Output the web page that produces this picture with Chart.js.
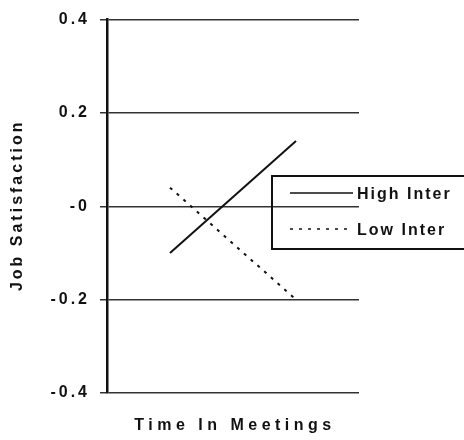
<!DOCTYPE html>
<html lang="en">
<head>
<meta charset="utf-8">
<title>Job Satisfaction</title>
<script src="https://cdn.jsdelivr.net/npm/chart.js@4.4.0/dist/chart.umd.min.js"></script>
<style>
  html, body { margin: 0; padding: 0; background: #fff; overflow: hidden; }
  canvas { display: block; }
</style>
</head>
<body>
<canvas id="chart" width="464" height="440"></canvas>
<script>
// data
const categories = ['Low', 'High'];
const highInter = [-0.1, 0.14];
const lowInter = [0.04, -0.2];
const seriesNames = ['High Inter', 'Low Inter'];
const tickLabels = ['-0.4', '-0.2', '-0', '0.2', '0.4'];
const yTitle = 'Job Satisfaction';
const xTitle = 'Time In Meetings';

const FONT = '"Liberation Sans", Arial, sans-serif';
const INK = '#111';

// spaced-out tick lettering like the printed figure
const spacing = {
    id: 'spacing',
    beforeDraw(chart) { chart.ctx.letterSpacing = '3px'; },
    afterDraw(chart) { chart.ctx.letterSpacing = '0px'; }
};

// axis titles, drawn by hand so each can get its own letter spacing
const titles = {
    id: 'titles',
    afterDraw(chart) {
        const ctx = chart.ctx;
        const area = chart.chartArea;
        ctx.save();
        ctx.font = 'bold 16px ' + FONT;
        ctx.fillStyle = INK;
        ctx.textAlign = 'center';
        ctx.textBaseline = 'middle';
        ctx.letterSpacing = '4.5px';
        ctx.fillText(xTitle, (area.left + area.right) / 2 + 2, 426);
        ctx.translate(18, (area.top + area.bottom) / 2);
        ctx.rotate(-Math.PI / 2);
        ctx.letterSpacing = '3px';
        ctx.fillText(yTitle, 1, 0);
        ctx.restore();
    }
};

// boxed legend running off the right edge of the figure
const boxLegend = {
    id: 'boxLegend',
    afterDraw(chart) {
        const ctx = chart.ctx;
        const w = chart.width;
        ctx.save();
        ctx.strokeStyle = INK;
        ctx.lineWidth = 2;
        ctx.beginPath();
        ctx.moveTo(w, 176);
        ctx.lineTo(272, 176);
        ctx.lineTo(272, 249);
        ctx.lineTo(w, 249);
        ctx.stroke();
        chart.data.datasets.forEach((ds, i) => {
            const y = 193 + i * 36;
            ctx.setLineDash(ds.borderDash || []);
            ctx.lineWidth = 1.6;
            ctx.beginPath();
            ctx.moveTo(290, y);
            ctx.lineTo(353, y);
            ctx.stroke();
            ctx.setLineDash([]);
            ctx.letterSpacing = '2px';
            ctx.font = 'bold 16px ' + FONT;
            ctx.fillStyle = INK;
            ctx.textBaseline = 'middle';
            ctx.textAlign = 'left';
            ctx.fillText(ds.label, 357, y + 2);
        });
        ctx.restore();
    }
};

new Chart(document.getElementById('chart'), {
    type: 'line',
    data: {
        labels: categories,
        datasets: [{
            label: seriesNames[0],
            data: highInter,
            borderColor: INK,
            borderWidth: 2,
            pointRadius: 0,
            tension: 0
        }, {
            label: seriesNames[1],
            data: lowInter,
            borderColor: INK,
            borderWidth: 2,
            borderDash: [3, 6],
            pointRadius: 0,
            tension: 0
        }]
    },
    options: {
        responsive: false,
        animation: false,
        layout: { padding: { top: 17, right: 105, left: 0, bottom: 0 } },
        plugins: { legend: { display: false }, tooltip: { enabled: false } },
        scales: {
            x: {
                offset: true,
                grid: { display: false, offset: true },
                border: { display: false },
                ticks: { display: false },
                afterFit(scale) { scale.height = 47; }
            },
            y: {
                min: -0.4,
                max: 0.4,
                ticks: {
                    stepSize: 0.2,
                    color: INK,
                    padding: 10,
                    font: { family: FONT, size: 16, weight: 'bold' },
                    callback: (value, index) => tickLabels[index]
                },
                grid: {
                    color: '#333',
                    lineWidth: 1.5,
                    tickLength: 7,
                    drawTicks: true
                },
                border: { display: true, color: INK, width: 2.5 },
                afterFit(scale) { scale.width = 107; }
            }
        }
    },
    plugins: [spacing, titles, boxLegend]
});
</script>
</body>
</html>
